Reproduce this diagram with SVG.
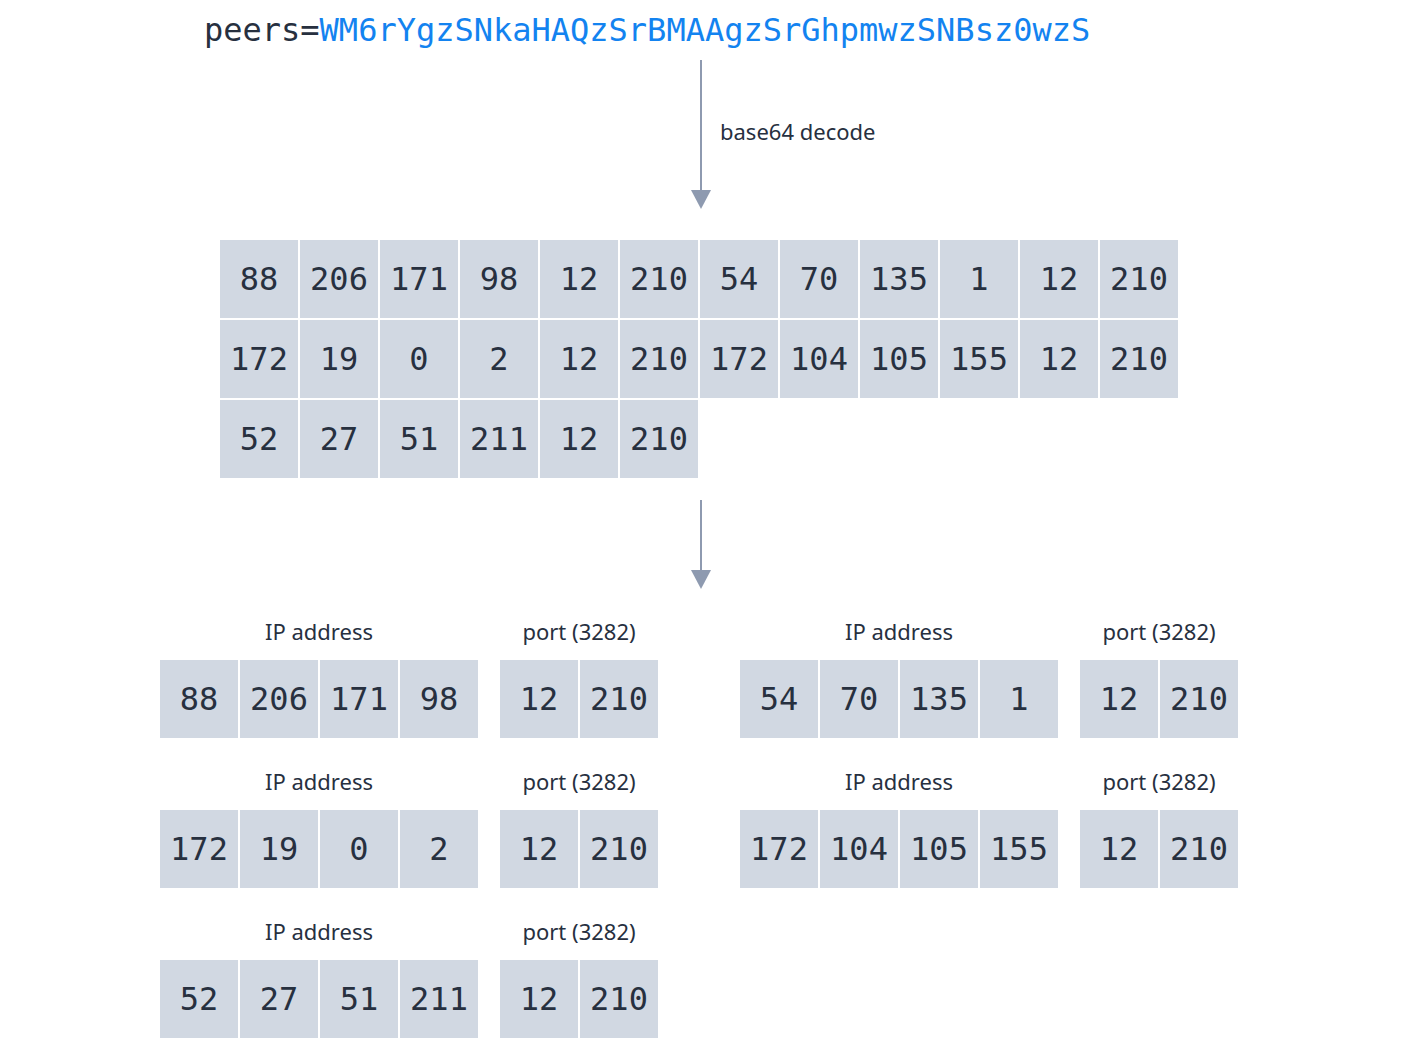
<svg xmlns="http://www.w3.org/2000/svg" width="1408" height="1040" viewBox="0 0 1408 1040">
<style>
.c{fill:#d1d8e2}
.n{font-family:"DejaVu Sans Mono",monospace;font-size:32px;fill:#27303f;text-anchor:middle}
.l{font-family:"Source Sans Pro","Noto Sans","Open Sans",sans-serif;font-size:22px;fill:#27303f;text-anchor:middle}
.a{stroke:#8e9ab0;stroke-width:2;fill:none}
</style>
<defs>
<symbol id="dummy"/>
<marker id="ah" markerWidth="20" markerHeight="20" viewBox="0 0 20 20" refX="10" refY="0" orient="auto" markerUnits="userSpaceOnUse"><path d="M0,0 L20,0 L10,18 Z" fill="#8e9ab0" transform="rotate(-90 10 0) translate(0 -10)"/></marker>
</defs>
<rect width="1408" height="1040" fill="#fff"/>
<text id="peers" x="204" y="41" style="font-family:'DejaVu Sans Mono',monospace;font-size:32px"><tspan fill="#27303f">peers=</tspan><tspan fill="#1383f0">WM6rYgzSNkaHAQzSrBMAAgzSrGhpmwzSNBsz0wzS</tspan></text>
<g id="connectors">
<line class="a" x1="701" y1="60" x2="701" y2="192"/>
<path d="M691,190 L711,190 L701,209 Z" fill="#8e9ab0"/>
<text class="l" x="720" y="140" style="text-anchor:start">base64 decode</text>
<line class="a" x1="701" y1="500" x2="701" y2="572"/>
<path d="M691,570 L711,570 L701,589 Z" fill="#8e9ab0"/>
</g>
<g id="bytes">
<g transform="translate(220,240)">
<rect class="c" x="0" y="0" width="78" height="78"/><text class="n" x="39" y="50">88</text>
<rect class="c" x="80" y="0" width="78" height="78"/><text class="n" x="119" y="50">206</text>
<rect class="c" x="160" y="0" width="78" height="78"/><text class="n" x="199" y="50">171</text>
<rect class="c" x="240" y="0" width="78" height="78"/><text class="n" x="279" y="50">98</text>
<rect class="c" x="320" y="0" width="78" height="78"/><text class="n" x="359" y="50">12</text>
<rect class="c" x="400" y="0" width="78" height="78"/><text class="n" x="439" y="50">210</text>
<rect class="c" x="480" y="0" width="78" height="78"/><text class="n" x="519" y="50">54</text>
<rect class="c" x="560" y="0" width="78" height="78"/><text class="n" x="599" y="50">70</text>
<rect class="c" x="640" y="0" width="78" height="78"/><text class="n" x="679" y="50">135</text>
<rect class="c" x="720" y="0" width="78" height="78"/><text class="n" x="759" y="50">1</text>
<rect class="c" x="800" y="0" width="78" height="78"/><text class="n" x="839" y="50">12</text>
<rect class="c" x="880" y="0" width="78" height="78"/><text class="n" x="919" y="50">210</text>
</g>
<g transform="translate(220,320)">
<rect class="c" x="0" y="0" width="78" height="78"/><text class="n" x="39" y="50">172</text>
<rect class="c" x="80" y="0" width="78" height="78"/><text class="n" x="119" y="50">19</text>
<rect class="c" x="160" y="0" width="78" height="78"/><text class="n" x="199" y="50">0</text>
<rect class="c" x="240" y="0" width="78" height="78"/><text class="n" x="279" y="50">2</text>
<rect class="c" x="320" y="0" width="78" height="78"/><text class="n" x="359" y="50">12</text>
<rect class="c" x="400" y="0" width="78" height="78"/><text class="n" x="439" y="50">210</text>
<rect class="c" x="480" y="0" width="78" height="78"/><text class="n" x="519" y="50">172</text>
<rect class="c" x="560" y="0" width="78" height="78"/><text class="n" x="599" y="50">104</text>
<rect class="c" x="640" y="0" width="78" height="78"/><text class="n" x="679" y="50">105</text>
<rect class="c" x="720" y="0" width="78" height="78"/><text class="n" x="759" y="50">155</text>
<rect class="c" x="800" y="0" width="78" height="78"/><text class="n" x="839" y="50">12</text>
<rect class="c" x="880" y="0" width="78" height="78"/><text class="n" x="919" y="50">210</text>
</g>
<g transform="translate(220,400)">
<rect class="c" x="0" y="0" width="78" height="78"/><text class="n" x="39" y="50">52</text>
<rect class="c" x="80" y="0" width="78" height="78"/><text class="n" x="119" y="50">27</text>
<rect class="c" x="160" y="0" width="78" height="78"/><text class="n" x="199" y="50">51</text>
<rect class="c" x="240" y="0" width="78" height="78"/><text class="n" x="279" y="50">211</text>
<rect class="c" x="320" y="0" width="78" height="78"/><text class="n" x="359" y="50">12</text>
<rect class="c" x="400" y="0" width="78" height="78"/><text class="n" x="439" y="50">210</text>
</g>
</g>
<g id="peer1" transform="translate(160,660)">
<text class="l" x="159" y="-20">IP address</text><text class="l" x="419" y="-20">port (3282)</text>
<rect class="c" x="0" y="0" width="78" height="78"/><text class="n" x="39" y="50">88</text>
<rect class="c" x="80" y="0" width="78" height="78"/><text class="n" x="119" y="50">206</text>
<rect class="c" x="160" y="0" width="78" height="78"/><text class="n" x="199" y="50">171</text>
<rect class="c" x="240" y="0" width="78" height="78"/><text class="n" x="279" y="50">98</text>
<rect class="c" x="340" y="0" width="78" height="78"/><text class="n" x="379" y="50">12</text>
<rect class="c" x="420" y="0" width="78" height="78"/><text class="n" x="459" y="50">210</text>
</g>
<g id="peer2" transform="translate(740,660)">
<text class="l" x="159" y="-20">IP address</text><text class="l" x="419" y="-20">port (3282)</text>
<rect class="c" x="0" y="0" width="78" height="78"/><text class="n" x="39" y="50">54</text>
<rect class="c" x="80" y="0" width="78" height="78"/><text class="n" x="119" y="50">70</text>
<rect class="c" x="160" y="0" width="78" height="78"/><text class="n" x="199" y="50">135</text>
<rect class="c" x="240" y="0" width="78" height="78"/><text class="n" x="279" y="50">1</text>
<rect class="c" x="340" y="0" width="78" height="78"/><text class="n" x="379" y="50">12</text>
<rect class="c" x="420" y="0" width="78" height="78"/><text class="n" x="459" y="50">210</text>
</g>
<g id="peer3" transform="translate(160,810)">
<text class="l" x="159" y="-20">IP address</text><text class="l" x="419" y="-20">port (3282)</text>
<rect class="c" x="0" y="0" width="78" height="78"/><text class="n" x="39" y="50">172</text>
<rect class="c" x="80" y="0" width="78" height="78"/><text class="n" x="119" y="50">19</text>
<rect class="c" x="160" y="0" width="78" height="78"/><text class="n" x="199" y="50">0</text>
<rect class="c" x="240" y="0" width="78" height="78"/><text class="n" x="279" y="50">2</text>
<rect class="c" x="340" y="0" width="78" height="78"/><text class="n" x="379" y="50">12</text>
<rect class="c" x="420" y="0" width="78" height="78"/><text class="n" x="459" y="50">210</text>
</g>
<g id="peer4" transform="translate(740,810)">
<text class="l" x="159" y="-20">IP address</text><text class="l" x="419" y="-20">port (3282)</text>
<rect class="c" x="0" y="0" width="78" height="78"/><text class="n" x="39" y="50">172</text>
<rect class="c" x="80" y="0" width="78" height="78"/><text class="n" x="119" y="50">104</text>
<rect class="c" x="160" y="0" width="78" height="78"/><text class="n" x="199" y="50">105</text>
<rect class="c" x="240" y="0" width="78" height="78"/><text class="n" x="279" y="50">155</text>
<rect class="c" x="340" y="0" width="78" height="78"/><text class="n" x="379" y="50">12</text>
<rect class="c" x="420" y="0" width="78" height="78"/><text class="n" x="459" y="50">210</text>
</g>
<g id="peer5" transform="translate(160,960)">
<text class="l" x="159" y="-20">IP address</text><text class="l" x="419" y="-20">port (3282)</text>
<rect class="c" x="0" y="0" width="78" height="78"/><text class="n" x="39" y="50">52</text>
<rect class="c" x="80" y="0" width="78" height="78"/><text class="n" x="119" y="50">27</text>
<rect class="c" x="160" y="0" width="78" height="78"/><text class="n" x="199" y="50">51</text>
<rect class="c" x="240" y="0" width="78" height="78"/><text class="n" x="279" y="50">211</text>
<rect class="c" x="340" y="0" width="78" height="78"/><text class="n" x="379" y="50">12</text>
<rect class="c" x="420" y="0" width="78" height="78"/><text class="n" x="459" y="50">210</text>
</g>
</svg>
